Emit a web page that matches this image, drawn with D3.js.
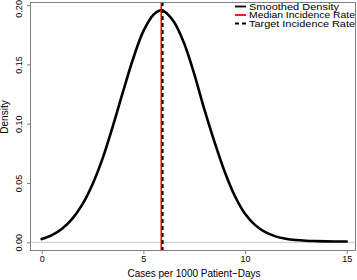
<!DOCTYPE html>
<html><head><meta charset="utf-8">
<script src="https://cdn.jsdelivr.net/npm/d3@7"></script>
<style>body{margin:0;background:#fff}svg{display:block;font-family:"Liberation Sans",Arial,sans-serif}</style>
</head><body><svg id="c" width="357" height="280"></svg>
<script>
const xs = [0,0.5,1,1.5,2,2.5,3,3.5,4,4.5,5,5.5,5.8,6,6.5,7,7.5,8,8.5,9,9.5,10,10.5,11,11.5,12,12.5,13,13.5,14,14.5,15];
const density = [0.0027,0.006,0.0115,0.0198,0.032,0.049,0.071,0.098,0.127,0.155,0.178,0.192,0.1955,0.195,0.186,0.168,0.142,0.112,0.0845,0.0595,0.039,0.024,0.0145,0.0085,0.005,0.003,0.0019,0.0013,0.001,0.0008,0.0007,0.0007];
const medianRate = 5.88;
const targetRate = 5.95;
const xTicks = [0,5,10,15];
const yTicks = [0,0.05,0.10,0.15,0.20];
const legendLabels = ["Smoothed Density","Median Incidence Rate","Target Incidence Rate"];

const svg = d3.select("#c");
const L=30,R=356,T=2,B=251;
const x = d3.scaleLinear().domain([0,15]).range([41.7,346.7]);
const y = d3.scaleLinear().domain([0,0.20]).range([242.3,5.1]);

// baseline
svg.append("line").attr("x1",L).attr("x2",R).attr("y1",y(0)).attr("y2",y(0)).attr("stroke","#c8c8c8").attr("stroke-width",1);

// curve
const pts = xs.map((v,i)=>[v,density[i]]);
svg.append("path").datum(pts).attr("fill","none").attr("stroke","#000").attr("stroke-width",2.6)
  .attr("stroke-linecap","round")
  .attr("d",d3.line().x(d=>x(d[0])).y(d=>y(d[1])).curve(d3.curveCatmullRom.alpha(0.5)));

// vertical lines
svg.append("line").attr("x1",x(medianRate)).attr("x2",x(medianRate)).attr("y1",T).attr("y2",B).attr("stroke","#ff0000").attr("stroke-width",1.6);
svg.append("line").attr("x1",x(targetRate)).attr("x2",x(targetRate)).attr("y1",T).attr("y2",B).attr("stroke","#000").attr("stroke-width",1.8).attr("stroke-dasharray","4,3");

// box
svg.append("rect").attr("x",L+0.5).attr("y",T+0.5).attr("width",R-L-1).attr("height",B-T-1).attr("fill","none").attr("stroke","#808080").attr("stroke-width",1);

// x axis
const xa = svg.append("g").attr("transform",`translate(0,${B})`)
  .call(d3.axisBottom(x).tickValues(xTicks).tickSize(3).tickSizeOuter(0).tickFormat(d3.format("d")));
xa.select(".domain").remove();
xa.selectAll(".tick line").attr("stroke","#808080");
xa.selectAll("text").attr("font-size",9).attr("font-family","Liberation Sans, Arial, sans-serif").attr("dy","0.9em").attr("y",3);

// y axis
const ya = svg.append("g").attr("transform",`translate(${L},0)`)
  .call(d3.axisLeft(y).tickValues(yTicks).tickSize(3).tickSizeOuter(0).tickFormat(d3.format(".2f")));
ya.select(".domain").remove();
ya.selectAll(".tick line").attr("stroke","#808080");
ya.selectAll("text").attr("font-size",9).attr("font-family","Liberation Sans, Arial, sans-serif")
  .attr("x",0).attr("dy",0).attr("text-anchor",d=>d===0.20?"end":"middle")
  .attr("transform",d=>d===0.20?"translate(-8,-5.5) rotate(-90)":"translate(-8,0) rotate(-90)");

// axis titles
svg.append("text").attr("x",194).attr("y",277).attr("text-anchor","middle").attr("font-size",10).text("Cases per 1000 Patient\u2212Days");
svg.append("text").attr("transform","translate(8,117) rotate(-90)").attr("text-anchor","middle").attr("font-size",10).text("Density");

// legend
const lg = svg.append("g");
const ly=[6.5,15,23.5];
const styles=[{c:"#000",d:null,w:1.8},{c:"#ff0000",d:null,w:1.8},{c:"#000",d:"4,3",w:1.8}];
legendLabels.forEach((t,i)=>{
  lg.append("line").attr("x1",235).attr("x2",246).attr("y1",ly[i]).attr("y2",ly[i]).attr("stroke",styles[i].c).attr("stroke-width",styles[i].w).attr("stroke-dasharray",styles[i].d);
  lg.append("text").attr("x",249).attr("y",ly[i]+3.2).attr("font-size",8.8)
    .attr("textLength",i===0?90:106).attr("lengthAdjust","spacingAndGlyphs").text(t);
});
</script></body></html>
